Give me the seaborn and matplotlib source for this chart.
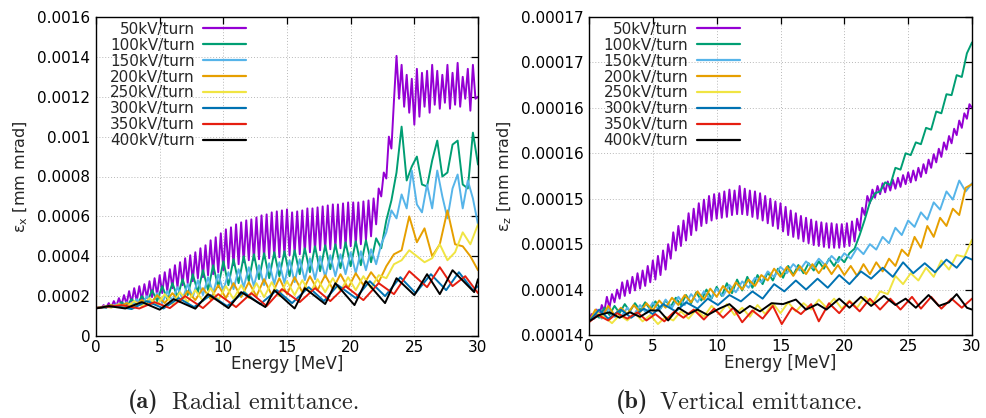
import numpy as np
import pandas as pd
import matplotlib
matplotlib.use("Agg")
import matplotlib.pyplot as plt
import seaborn as sns

# ---------------- data ----------------
labels = ["50kV/turn", "100kV/turn", "150kV/turn", "200kV/turn",
          "250kV/turn", "300kV/turn", "350kV/turn", "400kV/turn"]
colors = ["#9400D3", "#009E73", "#56B4E9", "#E69F00",
          "#F0E442", "#0072B2", "#E51E10", "#000000"]

# Radial emittance (units of 1e-4 mm mrad), uniform energy grids 0..30 MeV
rad_50 = [1.40, 1.45, 1.40, 1.55, 1.42, 1.65, 1.45, 1.75, 1.50, 1.90, 1.55,
          2.05, 1.60, 2.25, 1.65, 2.40, 1.75, 2.50, 1.80, 2.60, 1.90,
          2.75, 1.95, 2.90, 2.05, 3.05, 2.15, 3.20, 2.25, 3.35, 2.40,
          3.55, 2.45, 3.70, 2.55, 3.90, 2.65, 4.05, 2.75, 4.20, 2.90,
          4.40, 2.95, 4.55, 3.05, 4.80, 3.10, 4.95, 3.20, 5.15, 3.30,
          5.35, 3.40, 5.45, 3.55, 5.60, 3.60, 5.70, 3.70, 5.80, 3.80,
          5.85, 3.80, 5.95, 3.85, 6.05, 3.90, 6.10, 3.90, 6.20, 3.95,
          6.25, 3.95, 6.30, 4.00, 6.35, 4.05, 6.20, 4.10, 6.25, 4.10,
          6.30, 4.15, 6.40, 4.20, 6.40, 4.25, 6.45, 4.30, 6.50, 4.30,
          6.55, 4.35, 6.60, 4.40, 6.60, 4.40, 6.65, 4.45, 6.70, 4.50,
          6.70, 4.55, 6.70, 4.60, 6.75, 4.80, 6.80, 5.00, 6.90, 5.60,
          7.40, 7.00, 8.20, 7.90, 10.0, 9.40, 11.8, 14.05, 11.9, 13.6,
          11.5, 13.1, 11.2, 12.9, 10.6, 13.4, 11.0, 13.2, 11.5, 13.3,
          11.2, 13.6, 11.6, 13.3, 11.4, 13.1, 11.7, 13.6, 11.4, 13.2,
          11.6, 13.7, 11.5, 13.0, 11.9, 13.4, 11.3, 13.6, 11.9, 12.0]
rad_100 = [1.40, 1.45, 1.42, 1.55, 1.45, 1.70, 1.50, 1.85, 1.55, 2.00,
           1.65, 2.30, 1.75, 2.50, 1.85, 2.65, 1.95, 2.85, 2.05, 3.10,
           2.20, 3.30, 2.30, 3.55, 2.45, 3.75, 2.55, 3.85, 2.65, 4.00,
           2.75, 4.10, 2.85, 4.15, 2.90, 4.20, 3.00, 4.25, 3.00, 4.30,
           3.10, 4.40, 3.20, 4.50, 3.25, 4.55, 3.35, 4.60, 3.40, 4.70,
           3.50, 4.75, 3.55, 4.80, 3.70, 4.90, 4.40, 5.80, 6.80, 8.20,
           10.5, 7.80, 8.50, 9.00, 7.60, 7.50, 8.80, 9.80, 8.00, 8.20,
           9.60, 9.80, 7.60, 7.40, 10.2, 8.60]
rad_150 = [1.40, 1.42, 1.50, 1.43, 1.60, 1.45, 1.70, 1.50, 1.85, 1.55,
           2.00, 1.60, 2.15, 1.65, 2.25, 1.75, 2.45, 1.85, 2.60, 1.95,
           2.80, 2.05, 2.95, 2.15, 3.10, 2.25, 3.20, 2.35, 3.35, 2.45,
           3.45, 2.50, 3.55, 2.55, 3.65, 2.60, 3.70, 2.65, 3.80, 2.70,
           3.85, 2.80, 3.90, 2.85, 4.00, 2.95, 4.05, 3.00, 4.10, 3.10,
           4.20, 3.15, 4.25, 3.30, 4.35, 3.60, 4.60, 5.20, 6.30, 5.90,
           7.10, 6.40, 8.30, 6.60, 6.20, 7.60, 6.40, 8.30, 7.00, 5.90,
           7.40, 8.10, 6.40, 7.80, 6.90, 5.60]
rad_200 = [1.40, 1.45, 1.55, 1.45, 1.65, 1.50, 1.80, 1.55, 2.05, 1.65,
           2.15, 1.70, 2.25, 1.80, 2.40, 1.85, 2.55, 1.90, 2.65, 1.95,
           2.70, 2.00, 2.85, 2.05, 2.90, 2.10, 2.95, 2.20, 3.00, 2.30,
           3.05, 2.35, 3.10, 2.40, 3.15, 2.55, 3.20, 2.70, 3.50, 4.10,
           4.30, 6.00, 4.70, 5.40, 4.00, 4.60, 6.30, 4.60, 4.50, 4.00,
           3.30]
rad_250 = [1.40, 1.48, 1.42, 1.60, 1.45, 1.75, 1.50, 1.90, 1.55, 2.10,
           1.60, 2.20, 1.70, 2.30, 1.75, 2.40, 1.80, 2.50, 1.85, 2.55,
           1.90, 2.65, 1.95, 2.70, 2.00, 2.75, 2.05, 2.80, 2.15, 2.85,
           2.20, 2.90, 2.25, 2.95, 2.30, 3.00, 2.40, 3.05, 2.90, 3.60,
           3.80, 4.30, 4.00, 3.70, 3.90, 4.60, 3.80, 4.20, 5.20, 4.60,
           5.60]
# slow zig-zag series: energies of turning points and values there
rad_300_e = [0, 1.5, 2.8, 4.0, 5.3, 6.5, 7.7, 9.0, 10.3, 11.6, 12.9, 14.2, 15.4,
             16.7, 17.9, 19.0, 20.4, 21.5, 22.7, 23.9, 25.1, 26.3, 27.5, 28.5, 29.6, 30]
rad_300 = [1.40, 1.50, 1.35, 1.75, 1.38, 1.90, 1.45, 2.05, 1.50, 2.20, 1.60, 2.30, 1.65,
           2.45, 1.75, 2.55, 1.90, 2.75, 2.00, 2.95, 2.15, 3.10, 2.30, 3.20, 2.30, 2.50]
rad_350_e = [0, 2.0, 3.4, 4.6, 5.8, 7.0, 8.4, 9.6, 11.0, 12.2, 13.4, 14.6, 16.0,
             17.2, 18.4, 19.6, 21.0, 22.2, 23.4, 24.6, 26.0, 27.0, 28.0, 29.0, 30]
rad_350 = [1.40, 1.55, 1.38, 1.70, 1.40, 2.00, 1.40, 2.10, 1.45, 2.15, 1.50, 2.35, 1.70,
           2.40, 1.75, 2.50, 1.80, 2.65, 2.10, 3.25, 2.45, 3.45, 2.50, 3.00, 2.15]
rad_400_e = [0, 1.0, 2.3, 3.6, 5.0, 6.1, 7.8, 8.8, 10.4, 11.4, 13.3, 14.0, 15.6,
             16.4, 18.0, 18.8, 20.3, 21.2, 22.7, 23.6, 25.0, 26.0, 27.0, 28.0, 29.7, 30]
rad_400 = [1.38, 1.50, 1.38, 1.70, 1.32, 1.85, 1.37, 2.10, 1.40, 2.20, 1.45, 2.30, 1.38,
           2.40, 1.60, 2.65, 1.55, 2.75, 1.65, 2.90, 2.05, 3.10, 2.10, 3.30, 2.20, 2.85]

# Vertical emittance (units of 1e-6 mm mrad)
ver_50 = [136.6, 137.3, 136.8, 137.8, 137.0, 138.3, 137.6, 139.2, 138.0, 139.5, 138.6,
          140.0, 139.0, 140.8, 139.3, 141.0, 139.6, 141.4, 139.9, 141.8, 140.1,
          142.1, 140.4, 142.6, 140.8, 143.2, 141.1, 143.7, 141.6, 144.3, 142.2,
          145.0, 143.4, 146.3, 144.3, 147.0, 144.8, 147.6, 145.4, 148.4, 146.0,
          148.9, 146.5, 149.5, 147.0, 149.9, 147.3, 150.3, 147.6, 150.5, 147.8,
          150.6, 147.9, 150.8, 148.0, 151.0, 148.2, 150.9, 148.3, 151.4, 148.3,
          151.1, 148.2, 150.9, 148.0, 150.8, 147.8, 150.6, 147.6, 150.3, 147.3,
          150.0, 147.0, 149.7, 146.7, 149.5, 146.4, 149.1, 146.0, 148.7, 145.8,
          148.4, 145.6, 148.1, 145.3, 147.9, 145.1, 147.7, 144.9, 147.5, 144.8,
          147.4, 144.7, 147.3, 144.6, 147.3, 144.6, 147.2, 144.6, 147.2, 144.7,
          147.3, 144.8, 147.5, 145.3, 147.8, 146.5, 149.0, 148.2, 150.3, 149.5,
          151.0, 150.1, 151.4, 150.5, 151.7, 150.7, 151.9, 150.9, 152.1, 151.1,
          152.3, 151.3, 152.6, 151.6, 152.9, 151.8, 153.1, 152.0, 153.4, 152.4,
          153.8, 152.8, 154.3, 153.4, 154.9, 154.0, 155.5, 154.6, 156.2, 155.4,
          156.9, 156.1, 157.7, 157.0, 158.6, 157.8, 159.4, 158.8, 160.4, 160.0]
ver_100 = [136.5, 137.4, 136.9, 138.0, 137.2, 138.2, 137.4, 138.4, 137.6, 138.5,
           137.7, 138.6, 137.8, 138.7, 137.9, 138.8, 138.1, 139.1, 138.3, 139.4,
           138.5, 139.7, 138.8, 140.0, 139.0, 140.3, 139.3, 140.7, 139.6, 141.1,
           139.9, 141.4, 140.2, 141.6, 140.6, 141.9, 141.0, 142.3, 141.3, 142.6,
           141.6, 142.7, 141.8, 142.9, 142.1, 143.1, 142.3, 143.4, 142.6, 143.6,
           143.0, 144.0, 144.5, 146.0, 147.7, 149.6, 150.6, 150.8, 151.8, 151.5,
           153.4, 153.2, 155.0, 154.8, 156.2, 156.0, 157.8, 157.6, 159.6, 159.4,
           161.5, 161.4, 163.6, 163.4, 166.0, 167.2]
ver_150 = [136.5, 137.6, 136.8, 137.9, 137.0, 137.0, 138.0, 137.2, 138.3, 137.4,
           138.6, 137.7, 138.9, 138.0, 139.2, 138.3, 139.5, 138.6, 139.8, 138.9,
           140.1, 139.3, 140.5, 139.7, 140.9, 140.2, 141.3, 140.8, 142.0, 141.4,
           142.5, 141.8, 142.8, 142.1, 143.1, 142.4, 143.4, 142.7, 143.7, 143.0,
           144.0, 143.4, 144.6, 143.9, 145.0, 144.4, 145.8, 145.1, 146.8, 146.0,
           147.6, 146.9, 148.5, 147.7, 149.6, 148.8, 150.8, 149.9, 152.0, 150.8,
           151.7]
ver_200 = [136.5, 137.8, 136.9, 138.2, 137.2, 138.0, 137.3, 138.3, 137.5, 138.5,
           137.7, 138.8, 138.0, 139.1, 138.3, 139.4, 138.6, 139.8, 138.9, 140.1,
           139.2, 140.4, 139.6, 140.8, 140.0, 141.1, 140.4, 141.6, 141.0, 142.3,
           141.4, 142.5, 141.5, 142.6, 141.7, 142.8, 141.8, 142.8, 141.7, 142.7,
           141.6, 142.6, 141.5, 142.8, 141.7, 143.0, 142.0, 143.4, 142.6, 144.4,
           143.7, 145.8, 144.6, 147.0, 145.8, 147.9, 147.0, 148.9, 148.2, 151.2,
           151.6]
ver_250 = [136.5, 137.5, 137.0, 136.3, 137.2, 136.6, 137.4, 136.5, 137.2, 136.2,
           137.0, 136.6, 137.6, 136.8, 137.8, 137.0, 138.2, 137.3, 138.4, 137.2,
           138.0, 137.0, 138.3, 137.3, 138.5, 137.4, 138.6, 137.6, 138.5, 137.8,
           138.9, 138.0, 139.0, 137.9, 138.8, 138.0, 139.2, 138.4, 139.8, 139.5,
           141.5, 140.6, 141.8, 141.0, 142.4, 141.4, 143.2, 142.2, 143.8, 143.6,
           145.5]
ver_300_e = [0, 0.8, 1.5, 2.5, 3.3, 4.3, 5.0, 5.8, 6.8, 7.6, 8.5, 9.3, 10.1, 11.0,
             11.9, 12.8, 13.6, 14.5, 15.3, 16.2, 17.0, 17.9, 18.7, 19.6, 20.4, 21.3,
             22.1, 23.0, 23.8, 24.6, 25.4, 26.3, 27.1, 28.0, 28.8, 29.5, 30]
ver_300 = [136.5, 137.8, 136.8, 137.8, 136.9, 137.9, 137.3, 138.4, 137.6, 138.6,
           137.9, 139.0, 138.3, 139.4, 138.7, 139.8, 139.0, 140.6, 139.8, 141.0,
           140.0, 141.2, 140.2, 141.6, 140.6, 142.0, 141.2, 142.4, 141.4, 143.0,
           141.8, 142.9, 141.9, 143.3, 142.4, 143.6, 143.3]
ver_350_e = [0, 0.7, 1.5, 2.2, 3.0, 3.8, 4.5, 5.2, 5.9, 6.7, 7.4, 8.2, 9.0, 9.8,
             10.5, 11.3, 12.0, 12.8, 13.6, 14.4, 15.1, 15.9, 16.6, 17.4, 18.0, 18.8,
             19.6, 20.4, 21.2, 22.0, 22.8, 23.6, 24.4, 25.3, 26.0, 26.8, 27.6, 28.4,
             29.2, 30]
ver_350 = [136.4, 137.2, 136.6, 137.4, 136.8, 137.5, 136.6, 137.3, 136.5, 137.6,
           136.9, 137.8, 136.7, 137.9, 136.9, 138.0, 136.4, 137.7, 136.8, 138.2,
           136.2, 138.0, 137.3, 138.4, 136.5, 138.5, 137.4, 138.7, 137.6, 139.0,
           137.8, 139.0, 137.8, 139.2, 137.9, 139.2, 137.9, 139.0, 138.0, 139.0]
ver_400_e = [0, 0.8, 1.6, 2.4, 3.2, 4.0, 4.8, 5.5, 6.2, 7.0, 7.8, 8.5, 9.3, 10.2,
             11.0, 11.8, 12.6, 13.4, 14.3, 15.2, 16.2, 17.0, 17.9, 18.6, 19.6, 20.4,
             21.3, 22.1, 23.1, 24.0, 24.8, 25.6, 26.6, 27.4, 28.2, 28.8, 29.6, 30]
ver_400 = [136.5, 137.2, 137.5, 136.9, 137.5, 137.0, 137.7, 137.7, 136.6, 138.0,
           137.3, 137.8, 137.2, 137.9, 138.4, 137.4, 138.2, 137.6, 138.5, 138.4,
           138.9, 137.8, 138.4, 137.8, 139.0, 138.0, 139.2, 138.2, 139.3, 138.3,
           139.0, 138.0, 139.4, 138.2, 138.6, 139.5, 138.0, 137.8]

x_ticks = [0, 5, 10, 15, 20, 25, 30]
rad_ticks = ["0", "0.0002", "0.0004", "0.0006", "0.0008", "0.001", "0.0012", "0.0014", "0.0016"]
ver_ticks = ["0.00014", "0.00014", "0.00015", "0.00015", "0.00016", "0.00016", "0.00017", "0.00017"]


def grid(vals):
    return np.linspace(0, 30, len(vals))


rad_series = [(grid(rad_50), rad_50), (grid(rad_100), rad_100), (grid(rad_150), rad_150),
              (grid(rad_200), rad_200), (grid(rad_250), rad_250),
              (rad_300_e, rad_300), (rad_350_e, rad_350), (rad_400_e, rad_400)]
ver_series = [(grid(ver_50), ver_50), (grid(ver_100), ver_100), (grid(ver_150), ver_150),
              (grid(ver_200), ver_200), (grid(ver_250), ver_250),
              (ver_300_e, ver_300), (ver_350_e, ver_350), (ver_400_e, ver_400)]


def frame(series, scale):
    parts = []
    for lab, (e, v) in zip(labels, series):
        parts.append(pd.DataFrame({"E": np.asarray(e, float),
                                   "val": np.asarray(v, float) * scale,
                                   "series": lab}))
    return pd.concat(parts, ignore_index=True)


df_rad = frame(rad_series, 1e-4)
df_ver = frame(ver_series, 1e-6)

# ---------------- figure ----------------
sns.set_style("white")
plt.rcParams["font.family"] = ["DejaVu Sans"]

fig = plt.figure(figsize=(9.87, 4.18), dpi=100)
ax1 = fig.add_axes([96 / 987, 1 - 336 / 418, 382 / 987, 319 / 418])
ax2 = fig.add_axes([589 / 987, 1 - 335 / 418, 383 / 987, 318 / 418])


def style(ax, df, ylim, yt, ytl, ylabel):
    sns.lineplot(data=df, x="E", y="val", hue="series", hue_order=labels,
                 palette=colors, estimator=None, sort=False, lw=1.4, ax=ax)
    ax.set_xlim(0, 30)
    ax.set_ylim(*ylim)
    ax.set_xticks(x_ticks)
    ax.set_xticklabels([str(t) for t in x_ticks])
    ax.set_yticks(yt)
    ax.set_yticklabels(ytl)
    ax.tick_params(direction="in", top=True, right=True, length=5, width=0.9,
                   labelsize=11, colors="black")
    ax.tick_params(axis="y", pad=4)
    ax.tick_params(axis="x", pad=3)
    ax.grid(True, linestyle=(0, (1, 2)), color="#b8b8b8", lw=0.7)
    ax.set_axisbelow(True)
    for s in ax.spines.values():
        s.set_color("black")
        s.set_linewidth(1.0)
    ax.set_xlabel("Energy [MeV]", fontsize=12, labelpad=0)
    ax.set_ylabel(ylabel, fontsize=11.5, labelpad=5)
    handles, labs = ax.get_legend_handles_labels()
    leg = ax.legend(handles, labs, loc="upper right", bbox_to_anchor=(0.393, 0.985),
                    frameon=False, markerfirst=False, handlelength=2.8,
                    handletextpad=0.55, labelspacing=0.06, borderpad=0,
                    borderaxespad=0, fontsize=11)
    for ln in leg.get_lines():
        ln.set_linewidth(1.6)


style(ax1, df_rad, (0, 0.0016), np.arange(9) * 0.0002, rad_ticks,
      "ε$_\\mathrm{x}$ [mm mrad]")
style(ax2, df_ver, (0.000135, 0.00017), 0.000135 + np.arange(8) * 0.000005, ver_ticks,
      "ε$_\\mathrm{z}$ [mm mrad]")

# captions
cy = 1 - 402 / 418
fig.text(159 / 987, cy, "(a)", family="cmb10", fontsize=17.5, ha="right", va="center")
fig.text(172 / 987, cy, "Radial emittance.", family="cmr10", fontsize=17.5,
         ha="left", va="center")
fig.text(648 / 987, cy, "(b)", family="cmb10", fontsize=17.5, ha="right", va="center")
fig.text(660 / 987, cy, "Vertical emittance.", family="cmr10", fontsize=17.5,
         ha="left", va="center")

fig.savefig("out.png", dpi=100)
